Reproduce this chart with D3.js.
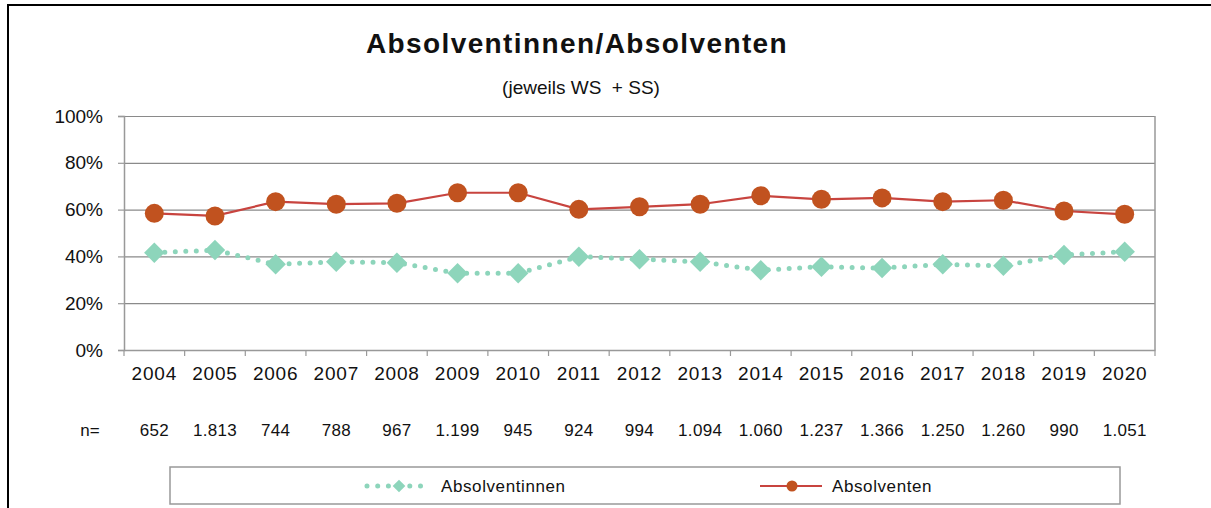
<!DOCTYPE html>
<html>
<head>
<meta charset="utf-8">
<script src="https://cdn.jsdelivr.net/npm/d3@7"></script>
<style>
  body { margin: 0; background: #fff; }
  svg text { font-family: "Liberation Sans", Arial, sans-serif; fill: #111; white-space: pre; }
</style>
</head>
<body>
<svg id="chart" width="1211" height="508"></svg>
<script>
const years = ['2004', '2005', '2006', '2007', '2008', '2009', '2010', '2011', '2012',
  '2013', '2014', '2015', '2016', '2017', '2018', '2019', '2020'];
const nCounts = ['652', '1.813', '744', '788', '967', '1.199', '945', '924', '994',
  '1.094', '1.060', '1.237', '1.366', '1.250', '1.260', '990', '1.051'];
// shares in percent
const absolventinnen = [41.6, 42.7, 36.6, 37.7, 37.3, 32.8, 32.8, 39.9, 38.8,
  37.7, 34.1, 35.6, 35.0, 36.6, 36.0, 40.6, 42.0];
const absolventen = [58.4, 57.3, 63.4, 62.3, 62.7, 67.2, 67.2, 60.1, 61.2,
  62.3, 65.9, 64.4, 65.0, 63.4, 64.0, 59.4, 58.0];
const yTicks = [0, 20, 40, 60, 80, 100];

const margin = { top: 116, right: 56, bottom: 158, left: 124 };
const W = 1211, H = 508;
const width = W - margin.left - margin.right;
const height = H - margin.top - margin.bottom;

const colFemale = '#8dd5bb';
const colMale = '#c1521f';
const colMaleLine = '#c8443f';

const svg = d3.select('#chart');

// outer frame
svg.append('rect')
  .attr('x', 8).attr('y', 5)
  .attr('width', 1230).attr('height', 540)
  .attr('fill', 'none').attr('stroke', '#000').attr('stroke-width', 2);

// titles
svg.append('text')
  .attr('x', 577).attr('y', 53)
  .attr('text-anchor', 'middle')
  .style('font-size', '28px').style('font-weight', 'bold')
  .style('letter-spacing', '1.4px')
  .text('Absolventinnen/Absolventen');
svg.append('text')
  .attr('x', 581).attr('y', 94)
  .attr('text-anchor', 'middle')
  .style('font-size', '19px')
  .text('(jeweils WS  + SS)');

const g = svg.append('g')
  .attr('transform', `translate(${margin.left}, ${margin.top})`);

const x = d3.scaleBand().domain(years).range([0, width]);
const y = d3.scaleLinear().domain([0, 100]).range([height, 0]);

// gridlines
g.append('g')
  .call(d3.axisLeft(y).tickValues(yTicks).tickSize(-width).tickFormat(''))
  .call(a => a.select('.domain').remove())
  .call(a => a.selectAll('line').attr('stroke', '#8a8a8a').attr('stroke-width', 1.2));

// y axis
g.append('g')
  .call(d3.axisLeft(y).tickValues(yTicks).tickSize(6).tickPadding(15)
    .tickFormat(d => d + '%'))
  .call(a => a.select('.domain').attr('stroke', '#999').attr('stroke-width', 1.5))
  .call(a => a.selectAll('line').attr('stroke', '#999').attr('stroke-width', 1.2))
  .call(a => a.selectAll('text').style('font-size', '19px').attr('font-family', null));

// x axis: labels at centres, ticks at category boundaries
const xAxis = g.append('g')
  .attr('transform', `translate(0, ${height})`)
  .call(d3.axisBottom(x).tickSize(0).tickPadding(17))
  .call(a => a.select('.domain').attr('stroke', '#999').attr('stroke-width', 1.5))
  .call(a => a.selectAll('text').style('font-size', '19px')
    .style('letter-spacing', '0.8px').attr('font-family', null));

xAxis.selectAll('.bound')
  .data(years.concat(['end']))
  .enter().append('line')
  .attr('class', 'bound')
  .attr('x1', d => d === 'end' ? width : x(d))
  .attr('x2', d => d === 'end' ? width : x(d))
  .attr('y1', 0).attr('y2', 6)
  .attr('stroke', '#999').attr('stroke-width', 1.2);

// right edge of the plot
g.append('line')
  .attr('x1', width).attr('x2', width)
  .attr('y1', 0).attr('y2', height)
  .attr('stroke', '#999').attr('stroke-width', 1.5);

// n= row
svg.append('text')
  .attr('x', 90).attr('y', 436)
  .attr('text-anchor', 'middle')
  .style('font-size', '17px')
  .text('n=');
g.selectAll('.ncount')
  .data(nCounts)
  .enter().append('text')
  .attr('class', 'ncount')
  .attr('x', (d, i) => x(years[i]) + x.bandwidth() / 2)
  .attr('y', 436 - margin.top)
  .attr('text-anchor', 'middle')
  .style('font-size', '17px')
  .style('letter-spacing', '0.3px')
  .text(d => d);

const cx = i => x(years[i]) + x.bandwidth() / 2;
const line = d3.line().x((d, i) => cx(i)).y(d => y(d));

// Absolventinnen: dotted line + diamonds
g.append('path')
  .datum(absolventinnen)
  .attr('d', line)
  .attr('fill', 'none')
  .attr('stroke', colFemale)
  .attr('stroke-width', 5)
  .attr('stroke-linecap', 'round')
  .attr('stroke-dasharray', '0 10.5');

const diamond = d3.symbol().type(d3.symbolSquare).size(210);
g.selectAll('.fem')
  .data(absolventinnen)
  .enter().append('path')
  .attr('class', 'fem')
  .attr('d', diamond)
  .attr('transform', (d, i) => `translate(${cx(i)}, ${y(d)}) rotate(45)`)
  .attr('fill', colFemale);

// Absolventen: solid line + circles
g.append('path')
  .datum(absolventen)
  .attr('d', line)
  .attr('fill', 'none')
  .attr('stroke', colMaleLine)
  .attr('stroke-width', 2.2);

g.selectAll('.male')
  .data(absolventen)
  .enter().append('circle')
  .attr('class', 'male')
  .attr('cx', (d, i) => cx(i))
  .attr('cy', d => y(d))
  .attr('r', 9.5)
  .attr('fill', colMale);

// legend
const leg = svg.append('g');
leg.append('rect')
  .attr('x', 170).attr('y', 467)
  .attr('width', 950).attr('height', 37)
  .attr('fill', '#fff').attr('stroke', '#999').attr('stroke-width', 1.5);

leg.append('line')
  .attr('x1', 367).attr('x2', 431)
  .attr('y1', 486).attr('y2', 486)
  .attr('stroke', colFemale).attr('stroke-width', 5)
  .attr('stroke-linecap', 'round').attr('stroke-dasharray', '0 10.7');
leg.append('path')
  .attr('d', d3.symbol().type(d3.symbolSquare).size(80))
  .attr('transform', 'translate(399, 486) rotate(45)')
  .attr('fill', colFemale);
leg.append('text')
  .attr('x', 441).attr('y', 492)
  .style('font-size', '17px')
  .style('letter-spacing', '0.6px')
  .text('Absolventinnen');

leg.append('line')
  .attr('x1', 760).attr('x2', 822)
  .attr('y1', 486).attr('y2', 486)
  .attr('stroke', colMaleLine).attr('stroke-width', 2.2);
leg.append('circle')
  .attr('cx', 792).attr('cy', 486).attr('r', 5.5)
  .attr('fill', colMale);
leg.append('text')
  .attr('x', 832).attr('y', 492)
  .style('font-size', '17px')
  .style('letter-spacing', '0.6px')
  .text('Absolventen');
</script>
</body>
</html>
